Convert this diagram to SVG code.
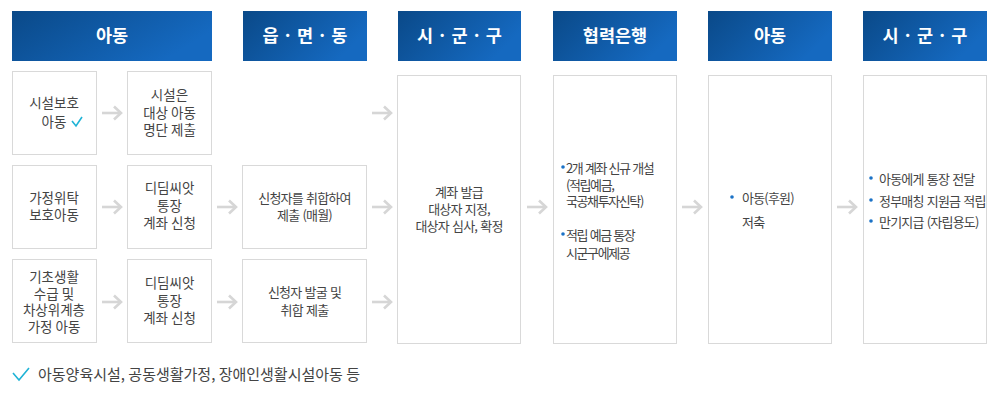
<svg xmlns="http://www.w3.org/2000/svg" width="999" height="394" viewBox="0 0 999 394">
<defs>
<linearGradient id="hg" x1="0" y1="0" x2="1" y2="0.4">
<stop offset="0" stop-color="#0a4988"/>
<stop offset="1" stop-color="#1569c0"/>
</linearGradient>
<marker id="ah" viewBox="0 0 10 16" refX="8.5" refY="8" markerWidth="10" markerHeight="16" markerUnits="userSpaceOnUse" orient="auto">
<path d="M1.5,1.5 L8.5,8 L1.5,14.5" fill="none" stroke="#d6d6d6" stroke-width="2.6"/>
</marker>
</defs>
<style>
.hd{fill:url(#hg)}
.ht{font-family:"Noto Sans CJK KR","Noto Sans",sans-serif;font-size:17.5px;font-weight:bold;fill:#fff;text-anchor:middle}
.bx{fill:#fff;stroke:#d9d9d9;stroke-width:1}
.t{font-family:"Noto Sans CJK KR","Noto Sans",sans-serif;font-size:13.5px;fill:#444}
.c{text-anchor:middle}
.n{font-size:13px;letter-spacing:-0.8px;word-spacing:1px}
.m{font-size:13px;letter-spacing:-1.4px;word-spacing:1px}
.dot{fill:#1b72c6}
.ck{fill:none;stroke:#1fb3d6;stroke-width:1.6}
.ar{fill:none;stroke:#d6d6d6;stroke-width:2.6;marker-end:url(#ah)}
.ft{font-family:"Noto Sans CJK KR","Noto Sans",sans-serif;font-size:15px;fill:#444}
</style>
<rect width="999" height="394" fill="#fff"/>

<g id="h1"><rect class="hd" x="12" y="11" width="200" height="50"/><text class="ht" x="112" y="42">아동</text></g>
<g id="h2"><rect class="hd" x="243" y="11" width="124" height="50"/><text class="ht" x="305" y="42">읍 · 면 · 동</text></g>
<g id="h3"><rect class="hd" x="398" y="11" width="123" height="50"/><text class="ht" x="459.5" y="42">시 · 군 · 구</text></g>
<g id="h4"><rect class="hd" x="553" y="11" width="124" height="50"/><text class="ht" x="615" y="42">협력은행</text></g>
<g id="h5"><rect class="hd" x="708" y="11" width="124" height="50"/><text class="ht" x="770" y="42">아동</text></g>
<g id="h6"><rect class="hd" x="863" y="11" width="124" height="50"/><text class="ht" x="925" y="42">시 · 군 · 구</text></g>

<g id="n11"><rect class="bx" x="12.5" y="71.5" width="84" height="83"/>
<text class="t c" x="54" y="108">시설보호</text>
<text class="t c" x="54" y="127">아동</text>
<polyline class="ck" points="72,121 76,126 82,117"/></g>
<g id="n12"><rect class="bx" x="127.5" y="71.5" width="84" height="83"/>
<text class="t c" x="169.5" y="100">시설은</text>
<text class="t c" x="169.5" y="118">대상 아동</text>
<text class="t c" x="169.5" y="135">명단 제출</text></g>

<g id="n21"><rect class="bx" x="12.5" y="165.5" width="84" height="83"/>
<text class="t c" x="54" y="203">가정위탁</text>
<text class="t c" x="54" y="220">보호아동</text></g>
<g id="n22"><rect class="bx" x="127.5" y="165.5" width="84" height="83"/>
<text class="t c" x="169.5" y="193">디딤씨앗</text>
<text class="t c" x="169.5" y="211">통장</text>
<text class="t c" x="169.5" y="228">계좌 신청</text></g>
<g id="n23"><rect class="bx" x="242.5" y="165.5" width="124" height="83"/>
<text class="t c n" x="304.5" y="203">신청자를 취합하여</text>
<text class="t c n" x="304.5" y="220">제출 (매월)</text></g>

<g id="n31"><rect class="bx" x="12.5" y="259.5" width="84" height="83"/>
<text class="t c" x="54" y="282">기초생활</text>
<text class="t c" x="54" y="298.5">수급 및</text>
<text class="t c" x="54" y="315">차상위계층</text>
<text class="t c" x="54" y="331.5">가정 아동</text></g>
<g id="n32"><rect class="bx" x="127.5" y="259.5" width="84" height="83"/>
<text class="t c" x="169.5" y="288">디딤씨앗</text>
<text class="t c" x="169.5" y="306">통장</text>
<text class="t c" x="169.5" y="323">계좌 신청</text></g>
<g id="n33"><rect class="bx" x="242.5" y="259.5" width="124" height="83"/>
<text class="t c n" x="304.5" y="297">신청자 발굴 및</text>
<text class="t c n" x="304.5" y="315">취합 제출</text></g>

<g id="n4"><rect class="bx" x="397.5" y="75.5" width="123" height="268"/>
<text class="t c n" x="459" y="197">계좌 발급</text>
<text class="t c n" x="459" y="214">대상자 지정,</text>
<text class="t c n" x="459" y="231">대상자 심사, 확정</text></g>

<g id="n5"><rect class="bx" x="553.5" y="75.5" width="123" height="268"/>
<circle class="dot" cx="563" cy="167" r="1.8"/>
<text class="t m" x="566" y="173">2개 계좌 신규 개설</text>
<text class="t m" x="566" y="190">(적립예금,</text>
<text class="t m" x="566" y="206">국공채투자신탁)</text>
<circle class="dot" cx="563" cy="234" r="1.8"/>
<text class="t m" x="566" y="240">적립 예금 통장</text>
<text class="t m" x="566" y="258">시군구에제공</text></g>

<g id="n6"><rect class="bx" x="708.5" y="75.5" width="123" height="268"/>
<circle class="dot" cx="732" cy="197" r="1.8"/>
<text class="t n" x="742" y="203">아동(후원)</text>
<text class="t n" x="742" y="227">저축</text></g>

<g id="n7"><rect class="bx" x="863.5" y="75.5" width="123" height="268"/>
<circle class="dot" cx="871" cy="178" r="1.8"/>
<text class="t n" x="879" y="184">아동에게 통장 전달</text>
<circle class="dot" cx="871" cy="200" r="1.8"/>
<text class="t n" x="879" y="206">정부매칭 지원금 적립</text>
<circle class="dot" cx="871" cy="221" r="1.8"/>
<text class="t n" x="879" y="227">만기지급 (자립용도)</text></g>

<g id="connectors">
<path class="ar" d="M102,113 H121"/>
<path class="ar" d="M102,207 H121"/>
<path class="ar" d="M102,302 H121"/>
<path class="ar" d="M217,207 H236"/>
<path class="ar" d="M217,302 H236"/>
<path class="ar" d="M372,113 H391"/>
<path class="ar" d="M372,207 H391"/>
<path class="ar" d="M372,302 H391"/>
<path class="ar" d="M527,207 H546"/>
<path class="ar" d="M682,207 H701"/>
<path class="ar" d="M837,207 H856"/>
</g>

<g id="note">
<polyline class="ck" points="13,373 19,380 29,368"/>
<text class="ft" x="38" y="380">아동양육시설, 공동생활가정, 장애인생활시설아동 등</text>
</g>
</svg>
